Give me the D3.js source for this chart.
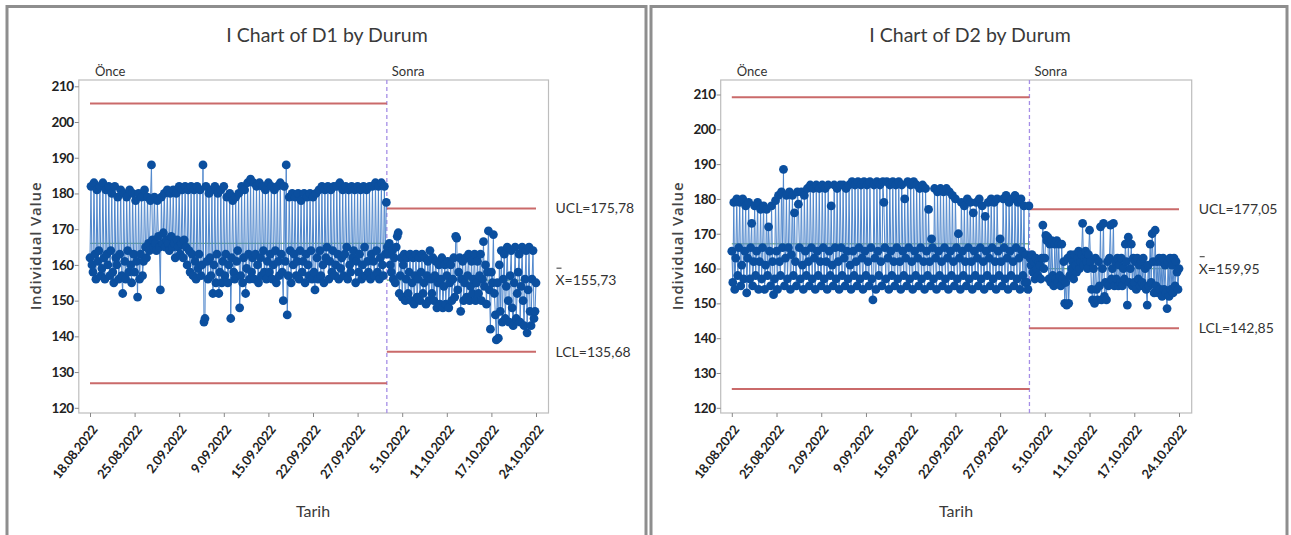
<!DOCTYPE html>
<html><head><meta charset="utf-8">
<script src="https://cdn.jsdelivr.net/npm/d3@7"></script>
<style>
html,body{margin:0;padding:0;background:#fff;}
svg{display:block;}
text{font-family:Lato,"Open Sans",sans-serif;fill:#333;}
</style></head>
<body>
<svg id="c" width="1291" height="535"></svg>
<script>
// ---------- data ----------
const tickLabels = ["18.08.2022","25.08.2022","2.09.2022","9.09.2022","15.09.2022","22.09.2022","27.09.2022","5.10.2022","11.10.2022","17.10.2022","24.10.2022"];
const tickIndex = [0,45,90,135,180,225,270,315,360,405,450];
const yTicks = [120,130,140,150,160,170,180,190,200,210];
const stageNames = ["Önce","Sonra"];
const stageStart = [0,300];

const d1Before = [
162,182,160,158,183,163,156,181,161,164,182,157,159,183,162,
156,181,163,160,182,157,164,180,158,155,182,162,160,179,156,
163,181,157,152,180,161,156,179,164,158,181,160,155,180,163,
158,178,161,151,180,156,163,179,157,161,181,165,162,179,166,
164,178,188,167,165,179,166,164,178,168,165,153,179,166,169,
180,165,167,181,166,164,180,168,165,181,166,162,180,167,165,
182,163,166,181,162,167,182,165,160,181,164,158,182,163,157,
181,161,156,182,159,163,181,157,160,188,144,145,182,161,156,
180,162,157,181,152,160,182,155,163,180,152,158,181,155,161,
182,157,163,179,155,160,180,145,162,178,158,156,179,161,164,
180,148,157,182,155,162,181,152,159,183,163,156,184,158,162,
183,156,163,182,160,155,183,162,157,182,164,158,181,156,161,
183,158,163,182,156,160,181,164,155,182,161,157,183,163,158,
150,182,161,188,146,157,179,164,155,180,160,163,179,157,161,
180,156,164,178,158,161,180,155,163,179,160,157,180,164,156,
179,158,153,180,162,156,181,164,157,182,160,155,181,162,165,
182,156,161,181,158,164,182,157,160,182,163,156,183,159,162,
181,157,163,182,165,156,181,160,158,182,162,164,181,155,161,
182,158,163,181,156,160,182,165,157,181,161,158,182,156,163,
182,161,157,183,164,158,182,156,162,183,160,157,182,163,177.5];
const d1After = [
165,163,166,160,158,164,156,162,155,165,168,169,152,157,162,
151,160,163,150,156,162,152,158,163,150,155,162,149,157,163,
151,156,162,150,158,163,152,155,162,149,157,161,150,164,156,
152,162,150,157,161,148,155,160,149,156,162,148,154,160,149,
157,161,148,155,160,150,156,162,151,168,167.5,153,158,162,147,
156,161,150,155,162,151,157,163,150,154,161,152,156,163,150,
155,161,152,157,163,150,156,166.5,154,160,149,158,169.5,153,142,
158,155,168.5,152,146,139,155,139.5,160,147,164,144,156,163,145,
154,165,150,144,157,164,148,143,155,165,145,152,158,163,144,
154,165,150,143,156,164,141,153,165,147,143,156,164,145,147,
155];
const d2Before = [
165,156,179,154,163,180,158,166,179,155,161,180,157,165,178,
153,163,179,157,166,173,155,162,178,158,165,179,154,162,177,
157,166,178,154,161,177,158,172,165,155,178,162,152.5,157,179.5,
165,154,181,162,158,182,166,188.5,155,163,181,157,166,182,154,
164,181,158,176,162,155,182,178.5,166,157,182,161,154,181,165,
158,183,162,155,184,166,157,183,163,154,184,165,158,183,162,
155,184,166,157,183,162,154,184,165,158,178,161,155,184,166,
157,183,162,154,184,166,158,184,163,155,183,165,157,184,161,
154,185,165,158,184,162,155,185,166,157,184,163,154,185,165,
158,184,162,155,185,166,157,151,184,163,154,185,165,158,184,
162,155,185,179,166,157,185,163,154,184,165,158,185,162,155,
184,166,157,185,162,154,184,165,158,180,163,155,185,166,157,
184,162,154,185,165,158,184,163,155,183,166,157,184,162,154,
183,165,158,177,162,155,168.5,166,157,183,163,154,182,165,158,
183,162,155,182,166,157,183,163,154,182,165,158,181,162,155,
180,166,157,170,163,154,179,165,158,178,162,155,180,166,157,
179,162,154,176,165,158,179,163,155,180,166,157,178,162,154,
175,165,158,179,163,155,180,166,157,179,162,154,180,165,158,
168.5,162,155,180,166,157,181,163,154,179,165,158,180,162,155,
181,166,157,179,163,154,180,165,158,178,156,164,156,154,178];
const d2After = [
163,161,164,159,162,157,163,160,158,162,161,157,163,172.5,160,
163,169.5,168,169,157,167,156,168,158,155,167,157,168,156,167,
158,155,167,157,162,150,156,149.5,163,150,158,164,160,162,157,
164,161,159,163,165,160,162,164,173,161,163,165,162,160,164,
171,162,154,151,160,150,163,154,151,162,155,172,151,160,173,
152,156,151,162,155,163,172.5,157,160,173,155,162,157,163,155,
161,156,163,155,160,157,167,162,149.5,169,156,160,167,155,163,
156,162,154,163,157,161,155,162,156,163,155,160,154,149.5,161,
155,167,156,170,162,153,171,155,162,153,163,154,162,152,163,
154,161,153,148.5,162,152,163,154,161,153,163,155,162,159,154,
160];

// control limits [LCL, center, UCL]
const d1LimitsBefore = [126.9,166.05,205.2];
const d1LimitsAfter  = [135.68,155.73,175.78];
const d2LimitsBefore = [125.4,167.1,209.2];
const d2LimitsAfter  = [142.85,159.95,177.05];

const limitLabel = v => v.toFixed(2).replace(".", ",");

// ---------- drawing ----------
const svg = d3.select("#c");

function panel(cfg){
  const g = svg.append("g");
  g.append("rect").attr("x",cfg.bx).attr("y",6.5).attr("width",cfg.bw).attr("height",560)
    .attr("fill","none").attr("stroke","#8e8e8e").attr("stroke-width",3);

  const values = cfg.before.concat(cfg.after);
  const n = values.length;
  const x = d3.scaleLinear().domain([0, n-1]).range([cfg.x0, cfg.x1]);
  const y = d3.scaleLinear().domain([120,210]).range([407.8, cfg.y210]);

  g.append("text").attr("x",cfg.cx).attr("y",42).attr("text-anchor","middle")
    .style("font-size","19.5px").style("fill","#3a3a3a").text(cfg.title);

  g.append("rect").attr("x",cfg.left).attr("y",80).attr("width",cfg.right-cfg.left).attr("height",333)
    .attr("fill","none").attr("stroke","#bdbdbd").attr("stroke-width",1.2);

  const ya = g.append("g").attr("transform",`translate(${cfg.left},0)`)
    .call(d3.axisLeft(y).tickValues(yTicks).tickSize(4).tickFormat(d3.format("d")));
  ya.select(".domain").remove();
  ya.selectAll(".tick line").attr("stroke","#888");
  ya.selectAll(".tick text").attr("x",-5).style("font-size","13.5px").style("font-weight","700")
    .style("fill","#222").style("font-family","Lato,sans-serif").attr("letter-spacing","-0.4");

  const xa = g.append("g").attr("transform","translate(0,413)")
    .call(d3.axisBottom(x).tickValues(tickIndex).tickSize(4).tickFormat((d,i)=>tickLabels[i]));
  xa.select(".domain").remove();
  xa.selectAll(".tick line").attr("stroke","#888");
  xa.selectAll(".tick text")
    .attr("text-anchor","end").attr("x",0).attr("y",0).attr("dy","0.35em")
    .attr("transform","translate(4,14) rotate(-52)")
    .style("font-size","13px").style("font-weight","700").style("fill","#222")
    .style("font-family","Lato,sans-serif").attr("letter-spacing","-0.3");

  g.append("text").attr("transform",`translate(${cfg.left-38},246) rotate(-90)`)
    .attr("text-anchor","middle").style("font-size","15px").style("font-weight","600")
    .style("font-family","'Open Sans',sans-serif")
    .style("fill","#444").attr("letter-spacing","0.8").text("Individual Value");
  g.append("text").attr("x",cfg.cx-14).attr("y",517).attr("text-anchor","middle")
    .style("font-size","16px").style("fill","#3a3a3a").text("Tarih");

  const divX = x(stageStart[1]-0.5);
  g.append("line").attr("x1",divX).attr("x2",divX).attr("y1",80).attr("y2",413)
    .attr("stroke","#a58ee6").attr("stroke-width",1.3).attr("stroke-dasharray","4,3");
  g.append("text").attr("x",x(stageStart[0])+5).attr("y",76).style("font-size","13px").text(stageNames[0]);
  g.append("text").attr("x",divX+5).attr("y",76).style("font-size","13px").text(stageNames[1]);

  const segs = [
    {a:0, b:stageStart[1]-0.5, lim:cfg.limB},
    {a:stageStart[1]-0.5, b:n-1, lim:cfg.limA}
  ];
  segs.forEach(s=>{
    g.append("line").attr("x1",x(s.a)).attr("x2",x(s.b)).attr("y1",y(s.lim[1])).attr("y2",y(s.lim[1]))
      .attr("stroke","#4e9a4e").attr("stroke-width",1);
    [0,2].forEach(k=>{
      g.append("line").attr("x1",x(s.a)).attr("x2",x(s.b)).attr("y1",y(s.lim[k])).attr("y2",y(s.lim[k]))
        .attr("stroke","#c45a5a").attr("stroke-width",2).attr("stroke-opacity",0.9);
    });
  });

  const nb = cfg.before.length;
  const stages = [cfg.before.map((v,i)=>[i,v]), cfg.after.map((v,i)=>[i+nb,v])];
  const line = d3.line().x(d=>x(d[0])).y(d=>y(d[1]));
  stages.forEach(st=>{
    g.append("path").datum(st).attr("d",line).attr("fill","none")
      .attr("stroke","#5087cc").attr("stroke-width",1);
  });
  g.append("g").selectAll("circle").data(values.map((v,i)=>[i,v])).join("circle")
    .attr("cx",d=>x(d[0])).attr("cy",d=>y(d[1])).attr("r",4.4).attr("fill","#0b4f9f");

  const lx = cfg.right + 7;
  const lim = cfg.limA;
  g.append("text").attr("x",lx).attr("y",y(lim[2])).attr("dy","0.35em").style("font-size","14px")
    .text("UCL=" + limitLabel(lim[2]));
  g.append("text").attr("x",lx).attr("y",y(lim[1])).attr("dy","0.35em").style("font-size","14px")
    .text("X=" + limitLabel(lim[1]));
  g.append("line").attr("x1",lx+1).attr("x2",lx+6).attr("y1",y(lim[1])-12).attr("y2",y(lim[1])-12)
    .attr("stroke","#333").attr("stroke-width",1);
  g.append("text").attr("x",lx).attr("y",y(lim[0])).attr("dy","0.35em").style("font-size","14px")
    .text("LCL=" + limitLabel(lim[0]));
}

panel({bx:7, bw:639, cx:327, left:78.8, right:548.5, x0:90, x1:536, y210:86.3,
  title:"I Chart of D1 by Durum", before:d1Before, after:d1After, limB:d1LimitsBefore, limA:d1LimitsAfter});
panel({bx:651, bw:636, cx:970, left:720.7, right:1191.7, x0:731.8, x1:1179, y210:94.5,
  title:"I Chart of D2 by Durum", before:d2Before, after:d2After, limB:d2LimitsBefore, limA:d2LimitsAfter});
</script>
</body></html>
